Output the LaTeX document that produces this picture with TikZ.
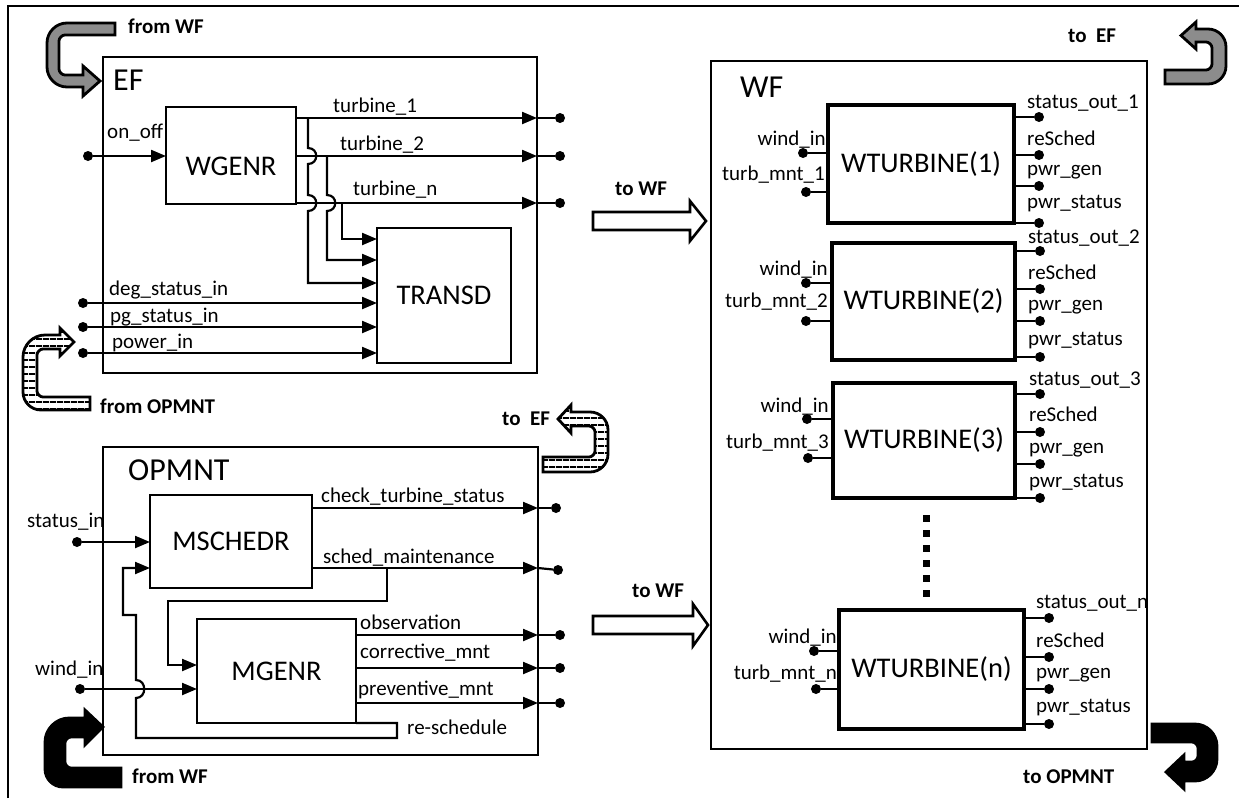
\documentclass[tikz,border=0pt]{standalone}
\usepackage{fontspec}
\setmainfont{Carlito}
\usetikzlibrary{arrows.meta,patterns.meta}
\definecolor{bandgray}{RGB}{140,140,140}
\newcommand\lblfont{\fontsize{21}{25}\selectfont}
\newcommand\blkfont{\fontsize{28.5}{34}\selectfont}
\newcommand\ttlfont{\fontsize{32}{38}\selectfont}
\newcommand\bldfont{\fontsize{21}{25}\selectfont\bfseries}
\tikzset{
  grp/.style={draw, line width=2pt, inner sep=0pt, outer sep=0pt},
  blk/.style={draw, line width=2.6pt, inner sep=0pt, outer sep=0pt, font=\blkfont},
  wtb/.style={draw, line width=3.4pt, inner sep=0pt, outer sep=0pt, font=\blkfont},
  wire/.style={line width=2.2pt},
  arr/.style={wire, -{Triangle[length=15pt,width=12pt]}},
  endpt/.style={circle, fill, inner sep=0pt, minimum size=10pt},
  lbl/.style={inner sep=0pt, font=\lblfont},
  bld/.style={inner sep=0pt, font=\bldfont},
  ttl/.style={inner sep=0pt, font=\ttlfont},
  hollow/.style={draw, fill=white, line width=2.6pt, line join=miter},
  band/.style={draw, line width=2.8pt, line join=miter},
  stripes/.style={band, pattern={Lines[angle=0,distance=6.5pt,line width=1.8pt]}},
}
\begin{document}
\begin{tikzpicture}[x=1pt,y=-1pt]
\useasboundingbox (0,0) rectangle (1239,798);
% outer frame
\draw[line width=2.5pt] (8,798) -- (8,6) -- (1239,6);

% ================= EF =================
\node[grp, minimum width=434pt, minimum height=316pt] (EF) at (320,215) {};
\node[ttl, anchor=base west] (tEF) at (113,90) {EF};
\node[blk, minimum width=130pt, minimum height=97pt] (WGENR) at (231,155.5) {};
\node[inner sep=0pt, font=\blkfont] (tWGENR) at (231,166) {WGENR};
\node[blk, minimum width=134pt, minimum height=135pt] (TRANSD) at (444,295.5) {TRANSD};

\node[endpt] (on) at (88,156) {};
\draw[arr] (on) -- (WGENR.west |- on);
\node[lbl, anchor=base west] (lon) at (107,138) {on\_off};

\node[endpt] (t1d) at (560,118) {};
\node[endpt] (t2d) at (560,156) {};
\node[endpt] (tnd) at (560,203) {};
\draw[arr] (WGENR.east |- t1d) -- (EF.east |- t1d);
\draw[wire] (EF.east |- t1d) -- (t1d);
\draw[arr] (WGENR.east |- t2d) -- (EF.east |- t2d);
\draw[wire] (EF.east |- t2d) -- (t2d);
\draw[arr] (WGENR.east |- tnd) -- (EF.east |- tnd);
\draw[wire] (EF.east |- tnd) -- (tnd);
\node[lbl, anchor=base west] (lt1) at (333,112) {turbine\_1};
\node[lbl, anchor=base west] (lt2) at (340,150) {turbine\_2};
\node[lbl, anchor=base west] (ltn) at (353,195) {turbine\_n};

\coordinate (jA) at (308,118);
\coordinate (jB) at (327,156);
\coordinate (jC) at (342,203);
\draw[arr] (jA) -- (308,148) .. controls (319,148) and (319,164) .. (308,164)
  -- (308,195) .. controls (319,195) and (319,211) .. (308,211)
  -- (308,283) -- (TRANSD.west |- 0,283);
\draw[arr] (jB) -- (327,195) .. controls (338,195) and (338,211) .. (327,211)
  -- (327,260) -- (TRANSD.west |- 0,260);
\draw[arr] (jC) -- (342,239) -- (TRANSD.west |- 0,239);

\node[endpt] (dg) at (83,303) {};
\node[endpt] (pg) at (83,327) {};
\node[endpt] (pw) at (83,353) {};
\draw[arr] (dg) -- (TRANSD.west |- dg);
\draw[arr] (pg) -- (TRANSD.west |- pg);
\draw[arr] (pw) -- (TRANSD.west |- pw);
\node[lbl, anchor=base west] (ldg) at (109,295) {deg\_status\_in};
\node[lbl, anchor=base west] (lpg) at (110,322) {pg\_status\_in};
\node[lbl, anchor=base west] (lpw) at (112,348) {power\_in};

% ================= OPMNT =================
\node[grp, minimum width=435pt, minimum height=308pt] (OPMNT) at (320.5,601) {};
\node[ttl, anchor=base west] (tOP) at (128,480) {OPMNT};
\node[blk, minimum width=162pt, minimum height=93pt] (MSCHEDR) at (231,541.5) {MSCHEDR};
\node[blk, minimum width=159pt, minimum height=104pt] (MGENR) at (276.5,671) {MGENR};

\node[endpt] (sti) at (77,542) {};
\draw[arr] (sti) -- (MSCHEDR.west |- sti);
\node[lbl, anchor=base west] (lsti) at (27,527) {status\_in};

\node[endpt] (wdi) at (80,689) {};
\draw[arr] (wdi) -- (MGENR.west |- wdi);
\node[lbl, anchor=base west] (lwdi) at (35,675) {wind\_in};

\node[endpt] (ckd) at (556,508) {};
\draw[arr] (MSCHEDR.east |- ckd) -- (OPMNT.east |- ckd);
\draw[wire] (OPMNT.east |- ckd) -- (ckd);
\node[lbl, anchor=base west] (lck) at (321,502) {check\_turbine\_status};

\coordinate (sm) at (538,568);
\node[endpt] (smd) at (558,570) {};
\draw[arr] (MSCHEDR.east |- sm) -- (sm);
\draw[wire] (sm) -- (smd);
\node[lbl, anchor=base west] (lsm) at (323,563) {sched\_maintenance};

\coordinate (jS) at (387,568);
\draw[arr] (jS) -- (387,601) -- (168,601) -- (168,665) -- (MGENR.west |- 0,665);

\node[endpt] (obd) at (560,635) {};
\node[endpt] (cod) at (560,668) {};
\node[endpt] (prd) at (560,703) {};
\draw[arr] (MGENR.east |- obd) -- (OPMNT.east |- obd);
\draw[wire] (OPMNT.east |- obd) -- (obd);
\draw[arr] (MGENR.east |- cod) -- (OPMNT.east |- cod);
\draw[wire] (OPMNT.east |- cod) -- (cod);
\draw[arr] (MGENR.east |- prd) -- (OPMNT.east |- prd);
\draw[wire] (OPMNT.east |- prd) -- (prd);
\node[lbl, anchor=base west] (lob) at (360,629) {observation};
\node[lbl, anchor=base west] (lco) at (360,658) {corrective\_mnt};
\node[lbl, anchor=base west] (lpr) at (358,695) {preventive\_mnt};
\node[lbl, anchor=base west] (lrs) at (407,734) {re-schedule};

\draw[arr] (MGENR.south east) -- (397,723) -- (397,738) -- (136,738)
  -- (136,698) .. controls (147,698) and (147,680) .. (136,680)
  -- (136,615) -- (123,615) -- (123,568) -- (MSCHEDR.west |- 0,568);

% ================= WF =================
\node[grp, minimum width=436pt, minimum height=688pt] (WF) at (929,405) {};
\node[ttl, anchor=base west] (tWF) at (740,97) {WF};

% turbine 1
\node[wtb, minimum width=186pt, minimum height=118pt] (WT1) at (921,164) {WTURBINE(1)};
\node[endpt] (a1) at (803,153) {};
\node[endpt] (b1) at (806,192) {};
\draw[wire] (WT1.west |- a1) -- (a1);
\draw[wire] (WT1.west |- b1) -- (b1);
\node[lbl, anchor=base east] (la1) at (826,145) {wind\_in};
\node[lbl, anchor=base east] (lb1) at (825,180) {turb\_mnt\_1};
\foreach \yy/\nn in {117/p,155/q,186/r,223/s} {
  \node[endpt] (o1\nn) at (1039,\yy) {};
  \draw[wire] (WT1.east |- o1\nn) -- (o1\nn);
}
\node[lbl, anchor=base west] (lo1p) at (1027,108) {status\_out\_1};
\node[lbl, anchor=base west] (lo1q) at (1027,145) {reSched};
\node[lbl, anchor=base west] (lo1r) at (1027,175) {pwr\_gen};
\node[lbl, anchor=base west] (lo1s) at (1027,208) {pwr\_status};

% turbine 2
\node[wtb, minimum width=183pt, minimum height=117pt] (WT2) at (923.5,301.5) {WTURBINE(2)};
\node[endpt] (a2) at (806,283) {};
\node[endpt] (b2) at (806,321) {};
\draw[wire] (WT2.west |- a2) -- (a2);
\draw[wire] (WT2.west |- b2) -- (b2);
\node[lbl, anchor=base east] (la2) at (828,275) {wind\_in};
\node[lbl, anchor=base east] (lb2) at (828,307) {turb\_mnt\_2};
\foreach \yy/\nn in {251/p,289/q,321/r,357/s} {
  \node[endpt] (o2\nn) at (1040,\yy) {};
  \draw[wire] (WT2.east |- o2\nn) -- (o2\nn);
}
\node[lbl, anchor=base west] (lo2p) at (1028,243) {status\_out\_2};
\node[lbl, anchor=base west] (lo2q) at (1028,279) {reSched};
\node[lbl, anchor=base west] (lo2r) at (1028,310) {pwr\_gen};
\node[lbl, anchor=base west] (lo2s) at (1028,345) {pwr\_status};

% turbine 3
\node[wtb, minimum width=182pt, minimum height=115pt] (WT3) at (924,440.5) {WTURBINE(3)};
\node[endpt] (a3) at (807,419) {};
\node[endpt] (b3) at (808,458) {};
\draw[wire] (WT3.west |- a3) -- (a3);
\draw[wire] (WT3.west |- b3) -- (b3);
\node[lbl, anchor=base east] (la3) at (829,412) {wind\_in};
\node[lbl, anchor=base east] (lb3) at (829,448) {turb\_mnt\_3};
\foreach \yy/\nn in {394/p,432/q,464/r,498/s} {
  \node[endpt] (o3\nn) at (1040,\yy) {};
  \draw[wire] (WT3.east |- o3\nn) -- (o3\nn);
}
\node[lbl, anchor=base west] (lo3p) at (1029,385) {status\_out\_3};
\node[lbl, anchor=base west] (lo3q) at (1029,421) {reSched};
\node[lbl, anchor=base west] (lo3r) at (1029,453) {pwr\_gen};
\node[lbl, anchor=base west] (lo3s) at (1029,487) {pwr\_status};

% ellipsis
\draw[line width=7pt, dash pattern=on 7pt off 8pt] (926,515) -- (926,600);

% turbine n
\node[wtb, minimum width=185pt, minimum height=119pt] (WTn) at (931.5,669.5) {WTURBINE(n)};
\node[endpt] (an) at (814,651) {};
\node[endpt] (bn) at (816,689) {};
\draw[wire] (WTn.west |- an) -- (an);
\draw[wire] (WTn.west |- bn) -- (bn);
\node[lbl, anchor=base east] (lan) at (837,643) {wind\_in};
\node[lbl, anchor=base east] (lbn) at (837,679) {turb\_mnt\_n};
\foreach \yy/\nn in {618/p,657/q,689/r,724/s} {
  \node[endpt] (on\nn) at (1049,\yy) {};
  \draw[wire] (WTn.east |- on\nn) -- (on\nn);
}
\node[lbl, anchor=base west] (lonp) at (1036,608) {status\_out\_n};
\node[lbl, anchor=base west] (lonq) at (1036,647) {reSched};
\node[lbl, anchor=base west] (lonr) at (1036,678) {pwr\_gen};
\node[lbl, anchor=base west] (lons) at (1036,712) {pwr\_status};

% ================= hollow "to WF" arrows =================
\draw[hollow] (593,212) -- (690,212) -- (690,201) -- (706,221) -- (690,241) -- (690,230) -- (593,230) -- cycle;
\draw[hollow] (593,616) -- (693,616) -- (693,604) -- (708,625) -- (693,646) -- (693,634) -- (593,634) -- cycle;
\node[bld, anchor=base west] (toWF1) at (615,195) {to WF};
\node[bld, anchor=base west] (toWF2) at (632,597) {to WF};

% ================= curved band arrows =================
% from WF (gray, top-left)
\draw[band, fill=bandgray] (115,23) -- (67,23) .. controls (56,23) and (47,32) .. (47,43)
  -- (47,67) .. controls (47,78) and (56,87) .. (67,87) -- (83,87) -- (83,96) -- (100,81)
  -- (83,66) -- (83,75) -- (65,75) .. controls (62,75) and (59,72) .. (59,69)
  -- (59,41) .. controls (59,38) and (62,35) .. (65,35) -- (115,35) -- cycle;
\node[bld, anchor=base west] (fWF1) at (128,33) {from WF};

% from OPMNT (striped, left)
\draw[stripes] (90,410) -- (41,410) .. controls (31,410) and (23,402) .. (23,392)
  -- (23,357) .. controls (23,345) and (33,335) .. (45,335) -- (60,335) -- (60,328)
  -- (74,342) -- (60,356) -- (60,349) -- (43,349) .. controls (40,349) and (37,352) .. (37,355)
  -- (37,391) .. controls (37,394) and (40,397) .. (43,397) -- (90,397) -- cycle;
\node[bld, anchor=base west] (fOP) at (100,413) {from OPMNT};

% from WF (black, bottom-left)
\draw[band, fill=black] (121,787) -- (63,787) .. controls (53,787) and (45,779) .. (45,769)
  -- (45,742) .. controls (45,729) and (56,718) .. (69,718) -- (85,718) -- (85,710)
  -- (103,727) -- (85,745) -- (85,737) -- (71,737) .. controls (68,737) and (65,740) .. (65,743)
  -- (65,762) .. controls (65,765) and (68,768) .. (71,768) -- (121,768) -- cycle;
\node[bld, anchor=base west] (fWF2) at (132,783) {from WF};

% to EF (gray, top-right)
\draw[band, fill=bandgray] (1165,70) -- (1206,70) .. controls (1209,70) and (1212,67) .. (1212,64)
  -- (1212,48) .. controls (1212,45) and (1209,42) .. (1206,42) -- (1196,42) -- (1196,49)
  -- (1181,35.5) -- (1196,22) -- (1196,29) -- (1208,29) .. controls (1218,29) and (1226,37) .. (1226,47)
  -- (1226,66) .. controls (1226,76) and (1218,84) .. (1208,84) -- (1165,84) -- cycle;
\node[bld, anchor=base west] (tEF1) at (1068,42) {to\ \ EF};

% to EF (striped, middle)
\draw[stripes] (543,457) -- (589,457) .. controls (592,457) and (595,454) .. (595,451)
  -- (595,432) .. controls (595,429) and (592,426) .. (589,426) -- (571,426) -- (571,433)
  -- (558,419) -- (571,405) -- (571,412) -- (590,412) .. controls (600,412) and (608,420) .. (608,430)
  -- (608,454) .. controls (608,464) and (600,472) .. (590,472) -- (543,472) -- cycle;
\node[bld, anchor=base west] (tEF2) at (502,425) {to\ \ EF};

% to OPMNT (black, bottom-right)
\draw[band, fill=black] (1152,724) -- (1195,724) .. controls (1207,724) and (1217,734) .. (1217,746)
  -- (1217,759) .. controls (1217,771) and (1207,781) .. (1195,781) -- (1184,781) -- (1184,789)
  -- (1166,772) -- (1184,755) -- (1184,762) -- (1192,762) .. controls (1195,762) and (1198,759) .. (1198,756)
  -- (1198,748) .. controls (1198,745) and (1195,742) .. (1192,742) -- (1152,742) -- cycle;
\node[bld, anchor=base west] (tOPM) at (1023,783) {to OPMNT};
\end{tikzpicture}
\end{document}
